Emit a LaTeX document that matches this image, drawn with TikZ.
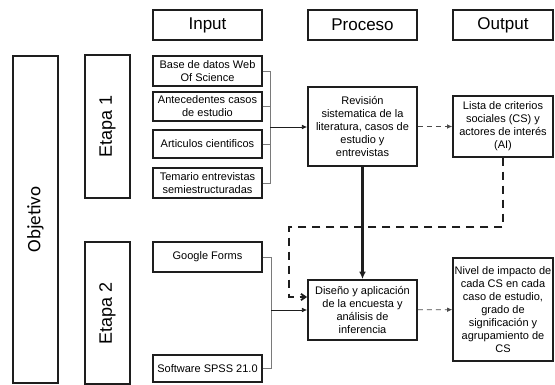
\documentclass[tikz,border=0pt]{standalone}
\usepackage{fontspec}
\setmainfont{Liberation Sans}
\newfontfamily\calib{Carlito}
\usetikzlibrary{arrows.meta,positioning,calc}
\definecolor{ink}{HTML}{1E1E1E}
\definecolor{brk}{HTML}{7A7A7A}
\tikzset{
  tip/.style={-{Latex[length=1.8mm,width=1.6mm]}},
  boxtext/.style={font=\fontsize{11}{13}\selectfont,align=center,inner sep=1pt}
}

\begin{document}
\begin{tikzpicture}[x=1pt,y=-1pt,
  hdr/.style={draw=ink,line width=1.2pt,minimum width=109pt,minimum height=30pt,
    inner sep=0pt,font=\fontsize{17}{20}\selectfont},
  stage/.style={draw=ink,line width=1.2pt,rotate=90,minimum height=45pt,inner sep=0pt,
    font=\fontsize{18}{20}\selectfont},
  inbox/.style={draw=ink,line width=1.1pt,minimum width=109pt,boxtext},
  proc/.style={draw=ink,line width=1.8pt,minimum width=109pt,boxtext},
  outbox/.style={draw=ink,line width=1.4pt,minimum width=100pt,boxtext},
  brace/.style={brk,line width=0.7pt},
  feed/.style={brace,tip,draw=ink},
  soft/.style={ink!80,line width=0.8pt,dash pattern=on 5pt off 4pt,tip},
  main/.style={ink,line width=2.2pt,-{Latex[length=2.6mm,width=2.4mm]}},
  back/.style={ink,line width=1.8pt,dash pattern=on 8pt off 6pt,
    -{Straight Barb[length=1.6mm,width=2.2mm]}}]
\useasboundingbox (0,0) rectangle (555,385);
% headers
\node[hdr] (hin) at (207.5,25) {Input};
\node[hdr] (hpr) at (362.5,25) {Proceso};
\node[hdr,minimum width=100pt] (hout) at (503,25) {Output};
% left column
\node[stage,minimum width=327pt,font=\calib\fontsize{19}{21}\selectfont] (obj) at (35.5,219.5) {Objetivo};
\node[stage,minimum width=143pt] (et1) at (107.5,126.5) {Etapa 1};
\node[stage,minimum width=142pt] (et2) at (107.5,313) {Etapa 2};
% inputs
\node[inbox,minimum height=30pt] (wos) at (207.5,71) {Base de datos Web\\Of Science};
\node[inbox,minimum height=29pt] (ant) at (207.5,106.5) {Antecedentes casos\\de estudio};
\node[inbox,minimum height=28pt] (art) at (207.5,144) {Articulos cientificos};
\node[inbox,minimum height=30pt] (tem) at (207.5,183) {Temario entrevistas\\semiestructuradas};
\node[inbox,minimum height=30pt] (gf) at (207.5,257) {Google Forms};
\node[inbox,minimum height=27pt] (spss) at (207.5,368.5) {Software SPSS 21.0};
% process and output
\node[proc,minimum height=79pt] (rev) at (362.5,126.5)
  {Revisión\\sistematica de la\\literatura, casos de\\estudio y\\entrevistas};
\node[proc,minimum height=60pt] (dis) at (362.5,310)
  {Diseño y aplicación\\de la encuesta y\\análisis de\\inferencia};
\node[outbox,minimum height=61pt] (lst) at (503,126.5)
  {Lista de criterios\\sociales (CS) y\\actores de interés\\(AI)};
\node[outbox,minimum height=103pt] (niv) at (503,309.5)
  {Nivel de impacto de\\cada CS en cada\\caso de estudio,\\grado de\\significación y\\agrupamiento de\\CS};
% brackets
\coordinate (j1) at (270,127);
\coordinate (j2) at (271,310);
\draw[brace] (wos.east) -| (j1) (tem.east) -| (j1)
  (ant.east) -- (ant.east -| j1) (art.east) -- (art.east -| j1);
\draw[brace] (gf.east) -| (j2) (spss.east) -| (j2);
\draw[feed] (j1) -- (j1 -| rev.west);
\draw[feed] (j2) -- (j2 -| dis.west);
% flows
\draw[soft] (rev) -- (lst);
\draw[soft] (dis) -- (niv);
\draw[main] (rev) -- (dis);
\coordinate (lp) at (289,227);
\coordinate (la) at (289,297);
\draw[back] (lst.south) |- (lp) -- (la) -- (la -| dis.west);
\end{tikzpicture}
\end{document}
